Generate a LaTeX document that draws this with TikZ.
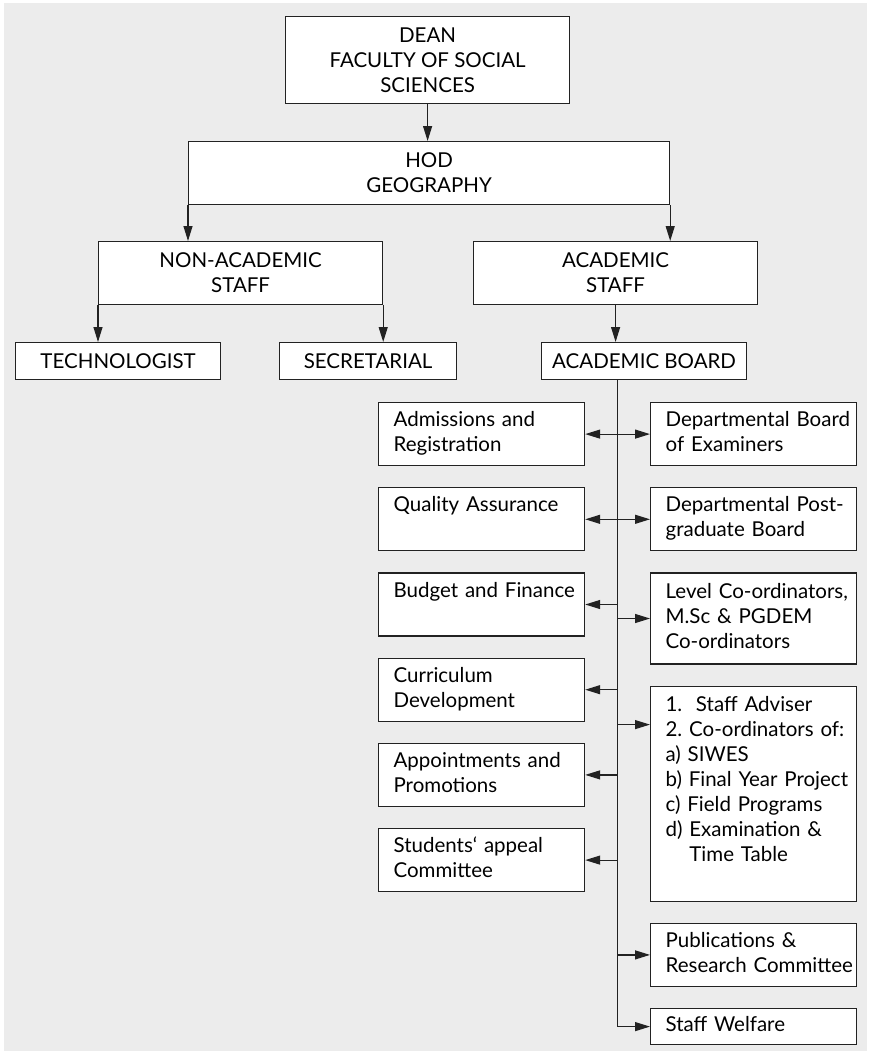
\documentclass[tikz,border=0pt]{standalone}
\usepackage{fontspec}
\setmainfont{Lato}
\usepackage{xcolor}
\usetikzlibrary{arrows.meta,positioning,calc}
\definecolor{chartbg}{HTML}{ECECEC}
\definecolor{rule}{HTML}{222222}
\newcommand{\rows}[1]{\begin{tabular}{@{}l@{}}#1\end{tabular}}
\frenchspacing

\begin{document}
\begin{tikzpicture}[x=1pt, y=-1pt, >={Triangle[length=15pt,width=9pt]}, node distance=21pt,
  line width=1.2pt, draw=rule,
  every node/.style={font=\fontsize{20.5}{25}\selectfont},
  box/.style={draw=rule, line width=1.2pt, fill=white, inner sep=0pt, align=center},
  unit/.style={box, text width=176pt, align=left, inner xsep=15pt, inner ysep=0pt, minimum height=63pt}]
\useasboundingbox (0,0) rectangle (871,1055);
\fill[chartbg] (4,3) rectangle (867,1051);

% head of the chart
\node[box, anchor=north west, minimum width=284pt, minimum height=87pt] (dean) at (285,16) {DEAN\\FACULTY OF SOCIAL\\SCIENCES};
\node[box, anchor=north west, minimum width=481pt, minimum height=63pt] (hod) at (188,141) {HOD\\GEOGRAPHY};
\node[box, anchor=north west, minimum width=284pt, minimum height=63pt] (nonacad) at (98,241) {NON-ACADEMIC\\STAFF};
\node[box, anchor=north west, minimum width=284pt, minimum height=63pt] (acad) at (473,241) {ACADEMIC\\STAFF};
\node[box, anchor=north west, minimum width=205pt, minimum height=37pt] (tech) at (15,342) {TECHNOLOGIST};
\node[box, anchor=north west, minimum width=177pt, minimum height=37pt] (secr) at (279,342) {SECRETARIAL};
\node[box, anchor=north west, minimum width=205pt, minimum height=37pt] (board) at (541,342) {ACADEMIC BOARD};

% committees, left column
\node[unit, anchor=north west] (adm) at (378,402) {\rows{Admissions and\\Registration}};
\node[unit, below=of adm] (qa) {\rows{Quality Assurance\\~}};
\node[unit, below=of qa] (budget) {\rows{Budget and Finance\\~}};
\node[unit, below=of budget] (curr) {\rows{Curriculum\\Development}};
\node[unit, below=of curr] (appt) {\rows{Appointments and\\Promotions}};
\node[unit, below=of appt] (appeal) {\rows{Students` appeal\\Committee}};

% committees, right column
\node[unit, anchor=north west] (exam) at (650,402) {\rows{Departmental Board\\of Examiners}};
\node[unit, below=of exam] (pgb) {\rows{Departmental Post-\\graduate Board}};
\node[unit, below=of pgb, minimum height=91pt] (level) {\rows{Level Co-ordinators,\\M.Sc \& PGDEM\\Co-ordinators}};
\node[unit, below=of level, minimum height=215pt] (advis) {\rows{1.\ \ Staff Adviser\\2. Co-ordinators of:\\a) SIWES\\b) Final Year Project\\c) Field Programs\\d) Examination \&\\\hphantom{d) }Time Table\\~}};
\node[unit, below=of advis] (publ) {\rows{Publications \&\\Research Committee}};
\node[unit, below=of publ, minimum height=36pt] (welfare) {\rows{Staff Welfare}};

\coordinate (spine) at ($(adm.east)!0.5!(exam.west)$);

\draw[->] (dean) -- (dean |- hod.north);
\draw[->] (hod.south west) -- (hod.south west |- nonacad.north);
\draw[->] (hod.south east) -- (hod.south east |- acad.north);
\draw[->] (nonacad.south west) -- (nonacad.south west |- tech.north);
\draw[->] (nonacad.south east) -- (nonacad.south east |- secr.north);
\draw[->] (acad.south) -- (acad.south |- board.north);
\draw[->] (spine |- board.south) |- (welfare.west);
\draw[<->] (adm.east) -- (exam.west);
\draw[<->] (qa.east) -- (pgb.west);
\draw[->] (spine |- budget.east) -- (budget.east);
\draw[->] (spine |- level.west) -- (level.west);
\draw[->] (spine |- curr.east) -- (curr.east);
\draw[->] ($(spine |- advis.north)+(0,39)$) -- ($(advis.north west)+(0,39)$);
\draw[->] (spine |- appt.east) -- (appt.east);
\draw[->] (spine |- appeal.east) -- (appeal.east);
\draw[->] (spine |- publ.west) -- (publ.west);
\end{tikzpicture}
\end{document}
